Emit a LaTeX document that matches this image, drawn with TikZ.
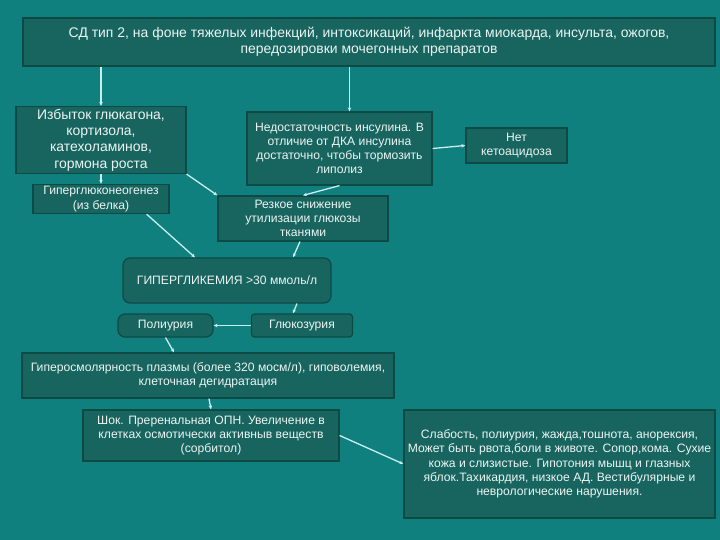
\documentclass[tikz,border=0pt]{standalone}
\usepackage{fontspec}
\setmainfont{Liberation Sans}
\usetikzlibrary{arrows.meta}
\definecolor{bgA}  {RGB}{16, 128, 126}
\definecolor{boxA} {RGB}{24, 101, 96}
\definecolor{lineA}{RGB}{12, 74, 70}
\definecolor{textA}{RGB}{236, 244, 242}
\definecolor{arrA} {RGB}{200, 238, 238}

\begin{document}
\begin{tikzpicture}[x=1bp, y=-1bp,
  box/.style={draw=lineA, fill=boxA, line width=1.2bp, text=textA, align=center, inner sep=2bp},
  rbox/.style={box, rounded corners=7bp},
  arr/.style={draw=arrA, line width=1.3bp, -{Stealth[length=4bp, width=3.5bp]}},
  big/.style={font=\fontsize{14}{16.3}\selectfont},
  mid/.style={font=\fontsize{14}{16}\selectfont},
  small/.style={font=\fontsize{12.2}{14.3}\selectfont}]

  \fill[bgA] (0,0) rectangle (720,540);
  \useasboundingbox (0,0) rectangle (720,540);

  \node[box, mid, minimum width=692bp, minimum height=48bp] (top) at (369,42)
    {СД тип 2, на фоне тяжелых инфекций, интоксикаций, инфаркта миокарда, инсульта, ожогов,\\передозировки мочегонных препаратов};

  \node[box, big, minimum width=170bp, minimum height=67bp] (izb) at (101,140)
    {Избыток глюкагона,\\кортизола,\\катехоламинов,\\гормона роста};
  \node[box, small, minimum width=185bp, minimum height=73bp] (ned) at (339.5,148.5)
    {Недостаточность инсулина. В\\отличие от ДКА инсулина\\достаточно, чтобы тормозить\\липолиз};
  \node[box, small, minimum width=101bp, minimum height=35bp] (net) at (516.5,145.5)
    {Нет\\кетоацидоза};

  \node[box, small, minimum width=136bp, minimum height=28bp] (gng) at (101,199)
    {Гиперглюконеогенез\\(из белка)};
  \node[box, small, minimum width=170bp, minimum height=45bp] (rez) at (303,218.5)
    {Резкое снижение\\утилизации глюкозы\\тканями};

  \node[rbox, small, minimum width=208bp, minimum height=45bp] (hyp) at (227,280.5)
    {ГИПЕРГЛИКЕМИЯ >30 ммоль/л};
  \node[rbox, small, minimum width=95bp, minimum height=23bp] (pol) at (165.5,325.5)
    {Полиурия};
  \node[box, rounded corners=3bp, small, minimum width=101bp, minimum height=23bp] (glu) at (302,325.5)
    {Глюкозурия};

  \node[box, small, minimum width=372bp, minimum height=45bp] (osm) at (208,375.5)
    {Гиперосмолярность плазмы (более 320 мосм/л), гиповолемия,\\клеточная дегидратация};
  \node[box, small, minimum width=256bp, minimum height=51bp] (shok) at (211,435.5)
    {Шок. Преренальная ОПН. Увеличение в\\клетках осмотически активныв веществ\\(сорбитол)};
  \node[box, small, minimum width=311bp, minimum height=108bp] (slab) at (559.5,464)
    {Слабость, полиурия, жажда,тошнота, анорексия,\\Может быть рвота,боли в животе. Сопор,кома. Сухие\\кожа и слизистые. Гипотония мышц и глазных\\яблок.Тахикардия, низкое АД. Вестибулярные и\\неврологические нарушения.};

  \draw[arr] (top.south -| izb.north) -- (izb.north);
  \draw[arr] ([xshift=10bp]top.south -| ned.north) -- ([xshift=10bp]ned.north);
  \draw[arr] (ned.east) -- (net.west);
  \draw[arr] (izb.south) -- (gng.north);
  \draw[arr] (izb.south east) -- (rez.north west);
  \draw[arr] (ned.south) -- (rez.north);
  \draw[arr] ([xshift=-23bp]gng.south east) -- ([xshift=-32bp]hyp.north);
  \draw[arr] ([xshift=-3bp]rez.south) -- ([xshift=66bp]hyp.north);
  \draw[arr] ([xshift=70bp]hyp.south) -- ([xshift=-9bp]glu.north);
  \draw[arr] (glu.west) -- (pol.east);
  \draw[arr] (pol.south) -- ([xshift=-34bp]osm.north);
  \draw[arr] ([xshift=1bp]osm.south) -- (shok.north);
  \draw[arr] (shok.east) -- (slab.west);

\end{tikzpicture}
\end{document}
